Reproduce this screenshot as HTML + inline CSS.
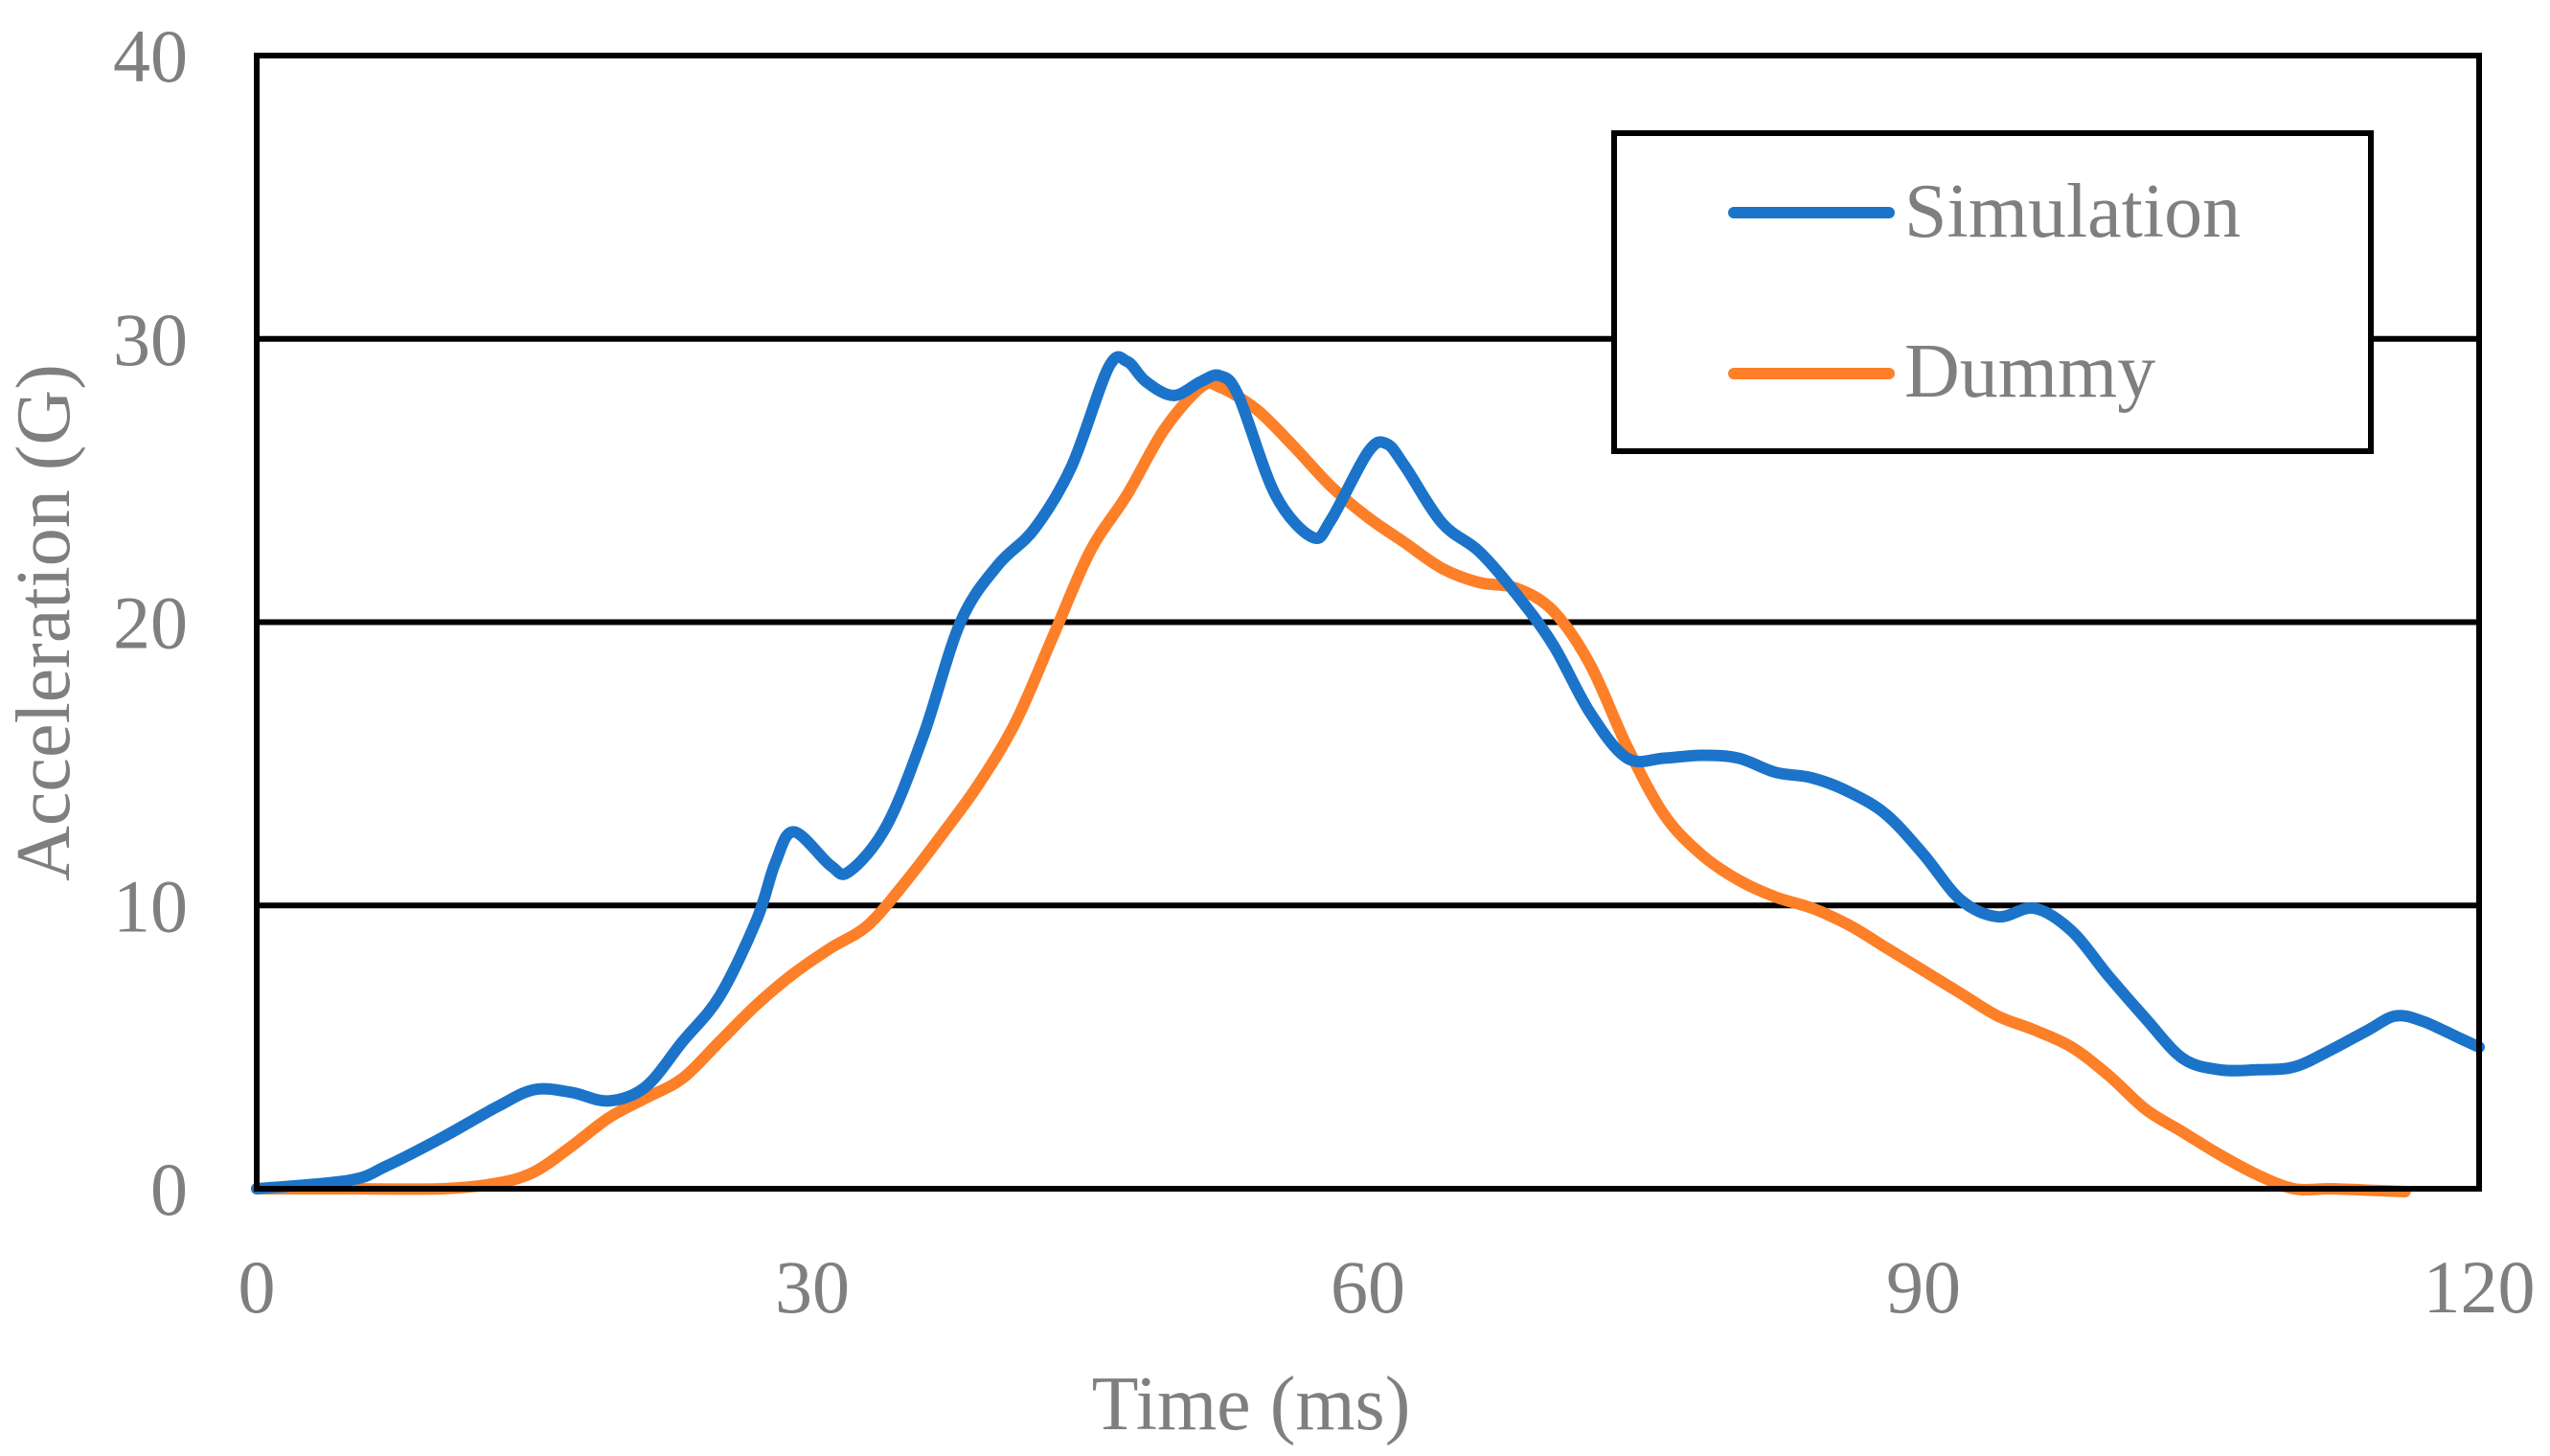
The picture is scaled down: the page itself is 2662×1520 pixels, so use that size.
<!DOCTYPE html>
<html><head><meta charset="utf-8"><style>
html,body{margin:0;padding:0;background:#fff}
svg{display:block}
text{font-family:"Liberation Serif",serif;fill:#7f7f7f}
</style></head><body>
<svg id="chart" width="2662" height="1520" viewBox="0 0 2662 1520" xmlns="http://www.w3.org/2000/svg">
<g id="grid"></g>
<g id="ticks"></g>
<g id="series"></g>
<rect x="268" y="58" width="2320" height="1183" fill="none" stroke="#000" stroke-width="6"/>
<text x="1306" y="1492" font-size="80" text-anchor="middle">Time (ms)</text>
<text transform="translate(72,650) rotate(-90)" font-size="80" text-anchor="middle">Acceleration (G)</text>
<g>
<rect x="1685" y="139" width="790" height="332" fill="#fff" stroke="#000" stroke-width="6"/>
<line x1="1810" y1="222" x2="1972" y2="222" stroke="#1b74c9" stroke-width="12" stroke-linecap="round"/>
<text x="1988" y="247" font-size="80">Simulation</text>
<line x1="1810" y1="390" x2="1972" y2="390" stroke="#fd7f28" stroke-width="12" stroke-linecap="round"/>
<text x="1988" y="414" font-size="80">Dummy</text>
</g>
</svg>
<script>
const xTicks=[0,30,60,90,120];
const yTicks=[0,10,20,30,40];
const simT=[0,5,7,10,13,15,17,19,21,23,25,27,28,29,31,32,34,36,38,40,42,44,46,47,48,49.5,51,52,53,55,57,58,60,61,62,64,66,68,70,72,74,76,78,80,82,84,86,88,90,92,94,96,98,100,102,104,106,108,110,112,114,115.5,117,119,120];
const simV=[0,0.3,0.8,1.8,2.9,3.5,3.4,3.1,3.6,5.2,6.8,9.5,11.5,12.6,11.4,11.2,12.8,16,20,22,23.3,25.5,29,29.2,28.5,28,28.5,28.7,28,24.5,23,23.6,26,26.3,25.5,23.5,22.5,21,19.2,16.8,15.2,15.2,15.3,15.2,14.7,14.5,14,13.2,11.8,10.2,9.6,9.9,9.1,7.5,6,4.6,4.2,4.2,4.3,4.9,5.6,6.1,5.9,5.3,5.0];
const dumT=[0,5,10,13,15,17,19,21,23,25,27,29,31,33,35,37,39,41,43,45,47,49,51,52,54,56,58,60,62,64,66,68,70,72,74,76,78,80,82,84,86,88,90,92,94,96,98,100,102,104,106,108,110,112,114,116];
const dumV=[0,0,0,0.2,0.6,1.5,2.5,3.2,3.9,5.2,6.5,7.6,8.5,9.3,10.8,12.5,14.3,16.5,19.5,22.5,24.5,26.8,28.3,28.3,27.5,26.2,24.8,23.7,22.8,21.9,21.4,21.2,20.4,18.5,15.6,13.2,11.8,10.9,10.3,9.9,9.3,8.5,7.7,6.9,6.1,5.6,5,4,2.8,2,1.2,0.5,0,0,-0.05,-0.1];
const X=t=>268+t*(2320/120);
const Y=v=>1241-v*(1183/40);
const NS="http://www.w3.org/2000/svg";
const grid=document.getElementById('grid'),ticks=document.getElementById('ticks'),series=document.getElementById('series');
yTicks.forEach(v=>{
  if(v>0&&v<40){const l=document.createElementNS(NS,'line');
  l.setAttribute('x1',268);l.setAttribute('x2',2588);l.setAttribute('y1',Y(v));l.setAttribute('y2',Y(v));
  l.setAttribute('stroke','#000');l.setAttribute('stroke-width',6);
  
  
  grid.appendChild(l);}
  const t=document.createElementNS(NS,'text');
  t.setAttribute('x',196);t.setAttribute('y',Y(v)+27);t.setAttribute('font-size',78);t.setAttribute('text-anchor','end');
  t.textContent=v;
  
  
  ticks.appendChild(t);
});
xTicks.forEach(v=>{
  const t=document.createElementNS(NS,'text');
  t.setAttribute('x',X(v));t.setAttribute('y',1370);t.setAttribute('font-size',78);t.setAttribute('text-anchor','middle');
  t.textContent=v;
  
  
  ticks.appendChild(t);
});
function path(ts,vs){
  const p=ts.map((t,i)=>[X(t),Y(vs[i])]);
  let d='M'+p[0][0]+','+p[0][1];
  for(let i=0;i<p.length-1;i++){
    const p0=p[Math.max(0,i-1)],p1=p[i],p2=p[i+1],p3=p[Math.min(p.length-1,i+2)];
    const c1=[p1[0]+(p2[0]-p0[0])/6,p1[1]+(p2[1]-p0[1])/6];
    const c2=[p2[0]-(p3[0]-p1[0])/6,p2[1]-(p3[1]-p1[1])/6];
    d+=' C'+c1+' '+c2+' '+p2;
  }
  return d;
}
[[dumT,dumV,'#fd7f28','dummy-line'],[simT,simV,'#1b74c9','simulation-line']].forEach(s=>{
  const e=document.createElementNS(NS,'path');
  e.setAttribute('d',path(s[0],s[1]));e.setAttribute('fill','none');e.setAttribute('stroke',s[2]);
  e.setAttribute('stroke-width',12);e.setAttribute('stroke-linejoin','round');e.setAttribute('stroke-linecap','round');
  
  
  series.appendChild(e);
});
</script>
</body></html>
